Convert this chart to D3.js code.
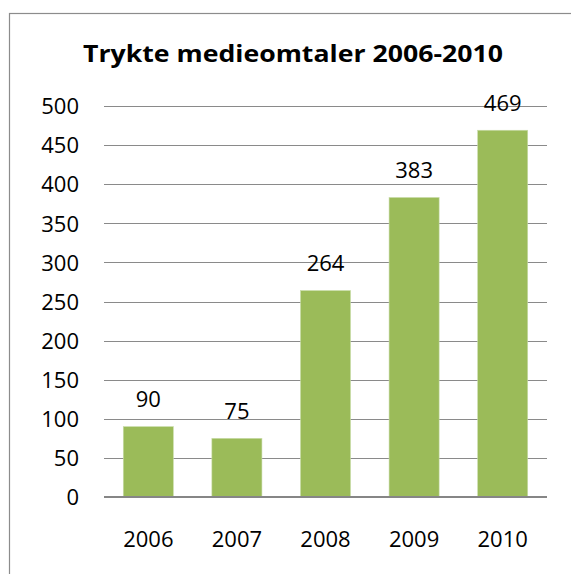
<!DOCTYPE html>
<html><head><meta charset="utf-8">
<script src="https://cdn.jsdelivr.net/npm/d3@7"></script>
<style>body{margin:0;background:#fff;} svg{display:block;}</style>
</head><body>
<svg id="c" width="571" height="574"></svg>
<script>
const title = "Trykte medieomtaler 2006-2010";
const categories = ["2006","2007","2008","2009","2010"];
const values = [90, 75, 264, 383, 469];
const yTicks = [0,50,100,150,200,250,300,350,400,450,500];

const svg = d3.select("#c");
const font = "'Open Sans', Lato, sans-serif";
// outer chart border
svg.append("rect").attr("x",9.5).attr("y",13.5).attr("width",600).attr("height",600)
  .attr("fill","none").attr("stroke","#8c8c8c").attr("stroke-width",1.2);

const x = d3.scaleBand().domain(categories).range([104,547]).paddingInner(0.435).paddingOuter(0.2175);
const y = d3.scaleLinear().domain([0,500]).range([497,106]);

const t = svg.append("text").attr("x",293).attr("y",62).attr("text-anchor","middle")
  .attr("font-family",font).attr("font-weight","bold").attr("font-size",24).attr("fill","#000").text(title);
const tw = t.node().getComputedTextLength();
if (Math.abs(tw-420) > 6) t.attr("textLength",420).attr("lengthAdjust","spacingAndGlyphs");

// gridlines
svg.append("g").selectAll("line").data(yTicks.filter(d=>d>0)).join("line")
  .attr("x1",104).attr("x2",547).attr("y1",d=>Math.round(y(d))+0.5).attr("y2",d=>Math.round(y(d))+0.5)
  .attr("stroke","#8a8a8a").attr("stroke-width",1);

// y axis labels
const yAxis = d3.axisLeft(y).tickValues(yTicks).tickSize(0).tickPadding(0);
const gy = svg.append("g").attr("transform","translate(79,0)").call(yAxis);
gy.select(".domain").remove();
gy.selectAll("text").attr("font-family",font).attr("font-size",22).attr("fill","#000").attr("dy","0.35em");

// bars
svg.append("g").selectAll("rect").data(values).join("rect")
  .attr("x",(d,i)=>x(categories[i])).attr("width",x.bandwidth())
  .attr("y",d=>y(d)).attr("height",d=>y(0)-y(d))
  .attr("fill","#9bbb59").attr("stroke","#c9dcaa").attr("stroke-width",0.6);

// baseline
svg.append("line").attr("x1",104).attr("x2",547).attr("y1",y(0)).attr("y2",y(0))
  .attr("stroke","#868686").attr("stroke-width",2);

// value labels
svg.append("g").selectAll("text").data(values).join("text")
  .attr("x",(d,i)=>x(categories[i])+x.bandwidth()/2).attr("y",d=>y(d)-19.5)
  .attr("text-anchor","middle").attr("font-family",font).attr("font-size",22).attr("fill","#000")
  .text(d=>d);

// x axis labels
const xAxis = d3.axisBottom(x).tickSize(0).tickPadding(0);
const gx = svg.append("g").attr("transform","translate(0,547)").call(xAxis);
gx.select(".domain").remove();
gx.selectAll("text").attr("font-family",font).attr("font-size",22).attr("fill","#000").attr("dy",0).attr("y",0);
</script>
</body></html>
